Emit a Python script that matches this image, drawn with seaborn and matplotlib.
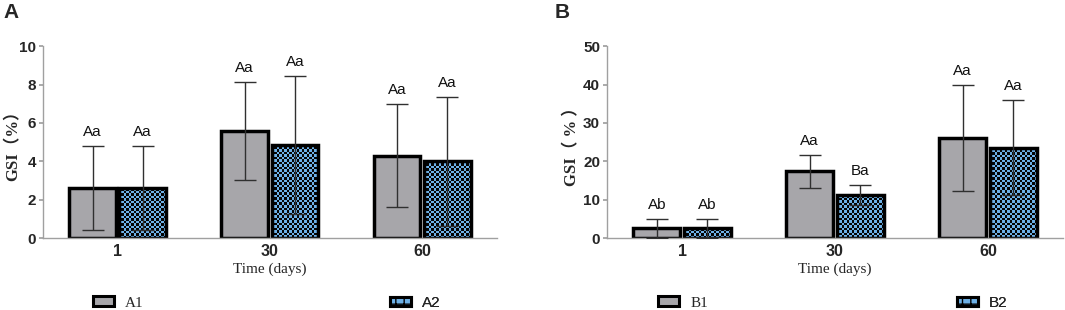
import numpy as np
import pandas as pd
import seaborn as sns
import matplotlib.pyplot as plt
from matplotlib.colors import ListedColormap
from matplotlib.patches import Patch

# ---- data ----
days = ["1", "30", "60"]

a1_mean = [2.6, 5.6, 4.3]
a1_sd = [2.2, 2.55, 2.7]
a2_mean = [2.6, 4.85, 4.0]
a2_sd = [2.2, 3.6, 3.35]
a1_sig = ["Aa", "Aa", "Aa"]
a2_sig = ["Aa", "Aa", "Aa"]

b1_mean = [2.5, 17.4, 26.1]
b1_sd = [2.4, 4.3, 13.8]
b2_mean = [2.5, 11.2, 23.5]
b2_sd = [2.4, 2.6, 12.4]
b1_sig = ["Ab", "Aa", "Aa"]
b2_sig = ["Ab", "Ba", "Aa"]

GRAY = "#a7a6aa"
BLUE = "#6db0e6"
checker_cmap = ListedColormap(["#050505", BLUE])

sns.set_theme(style="ticks")
plt.rcParams["font.family"] = ["Liberation Sans", "DejaVu Sans"]

fig = plt.figure(figsize=(10.65, 3.10), dpi=100)
ax_a = fig.add_axes([0.0404, 0.232, 0.426, 0.619])
ax_b = fig.add_axes([0.570, 0.232, 0.428, 0.619])


def checker_fill(ax, bars, cell_px=2.5):
    for bar in bars:
        x0, y0 = bar.get_x(), bar.get_y()
        x1, y1 = x0 + bar.get_width(), y0 + bar.get_height()
        p0 = ax.transData.transform((x0, y0))
        p1 = ax.transData.transform((x1, y1))
        nx = max(1, int(round(abs(p1[0] - p0[0]) / cell_px)))
        ny = max(1, int(round(abs(p1[1] - p0[1]) / cell_px)))
        grid = (np.add.outer(np.arange(ny), np.arange(nx)) % 2).astype(float)
        im = ax.imshow(grid, cmap=checker_cmap, extent=(x0, x1, y0, y1),
                       origin="lower", aspect="auto", interpolation="nearest",
                       zorder=bar.get_zorder() + 0.1, vmin=0, vmax=1)
        im.set_clip_path(bar)
        bar.set_facecolor("none")
        bar.set_zorder(bar.get_zorder() + 0.2)


def draw_panel(ax, names, means, sds, sigs, ylim, yticks, ylabel, ylabel_x,
               legend_x, label_fonts):
    df = pd.DataFrame({
        "day": days * 2,
        "group": [names[0]] * 3 + [names[1]] * 3,
        "gsi": means[0] + means[1],
    })
    sns.barplot(data=df, x="day", y="gsi", hue="group", order=days,
                hue_order=names, palette={names[0]: GRAY, names[1]: BLUE},
                errorbar=None, width=0.66, gap=0.07, edgecolor="black",
                linewidth=2.5, saturation=1, legend=False, ax=ax)
    ax.set_xlim(-0.49, 2.49)
    ax.set_ylim(*ylim)
    ax.set_yticks(yticks)
    bar_groups = list(ax.containers)

    for k, cont in enumerate(bar_groups):
        xs = [b.get_x() + b.get_width() / 2 for b in cont]
        ax.errorbar(xs, means[k], yerr=sds[k], fmt="none", ecolor="#303030",
                    elinewidth=1.0, capsize=8, capthick=1.0, zorder=5)
        for x, m, s, t in zip(xs, means[k], sds[k], sigs[k]):
            ax.annotate(t, (x, m + s), xytext=(0, 5), textcoords="offset points",
                        ha="center", va="bottom", fontsize=11, color="#111111")

    checker_fill(ax, bar_groups[1])

    for side in ["top", "right"]:
        ax.spines[side].set_visible(False)
    for side in ["left", "bottom"]:
        ax.spines[side].set_color("#a0a0a0")
        ax.spines[side].set_linewidth(1.0)
    ax.tick_params(axis="y", length=3, color="#a0a0a0", pad=2, labelsize=11)
    ax.tick_params(axis="x", length=0, pad=4, labelsize=11.5)
    for lab in ax.get_xticklabels() + ax.get_yticklabels():
        lab.set_fontweight("bold")

    ax.set_xlabel("Time (days)", family="Liberation Serif", fontsize=11, labelpad=3)
    ax.set_ylabel(ylabel, family=["Liberation Serif", "Noto Sans CJK SC"],
                  fontweight="bold", fontsize=12)
    ax.yaxis.set_label_coords(ylabel_x, 0.5)

    handles = [Patch(facecolor=GRAY, edgecolor="black", linewidth=2.2),
               Patch(facecolor=BLUE, edgecolor="black", linewidth=2.2, hatch="++")]
    for h, name, lx, fam in zip(handles, names, legend_x, label_fonts):
        leg = ax.legend([h], [name], loc="center left",
                        bbox_to_anchor=(lx / 1065, 1 - 303 / 310),
                        bbox_transform=fig.transFigure, frameon=False,
                        borderpad=0, borderaxespad=0, handlelength=1.4,
                        handleheight=0.55, handletextpad=0.7,
                        prop={"family": fam, "size": 11})
        ax.add_artist(leg)


draw_panel(ax_a, ["A1", "A2"], [a1_mean, a2_mean], [a1_sd, a2_sd],
           [a1_sig, a2_sig], (0, 10), [0, 2, 4, 6, 8, 10], "GSI\uff08%\uff09",
           -0.048, [93, 390], ["Liberation Serif", "Liberation Sans"])
draw_panel(ax_b, ["B1", "B2"], [b1_mean, b2_mean], [b1_sd, b2_sd],
           [b1_sig, b2_sig], (0, 50), [0, 10, 20, 30, 40, 50], "GSI\uff08 % \uff09",
           -0.059, [658, 957], ["Liberation Serif", "Liberation Sans"])

fig.text(0.003, 0.99, "A", fontsize=15, fontweight="bold", va="top", ha="left")
fig.text(0.521, 0.99, "B", fontsize=15, fontweight="bold", va="top", ha="left")

fig.savefig("out.png", dpi=100, facecolor="white")
